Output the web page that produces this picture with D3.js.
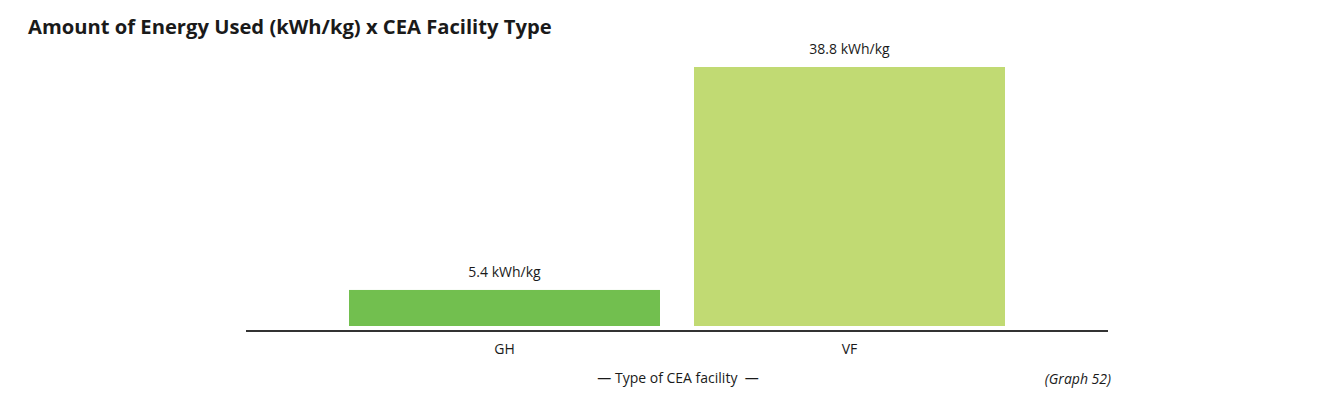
<!DOCTYPE html>
<html>
<head>
<meta charset="utf-8">
<script src="https://cdn.jsdelivr.net/npm/d3@7"></script>
<style>
  body { margin: 0; background: #fff; }
  text { font-family: 'Open Sans', 'Noto Sans', Arial, sans-serif; fill: #1a1a1a; }
</style>
</head>
<body>
<div id="chart"></div>
<script>
const categories = ['GH', 'VF'];
const values = [5.4, 38.8];
const barColors = ['#72bf4f', '#c1da73'];
const valueLabels = ['5.4 kWh/kg', '38.8 kWh/kg'];

const width = 1318;
const height = 396;
const baseline = 326;

const svg = d3.select('#chart')
  .append('svg')
  .attr('width', width)
  .attr('height', height);

// title
svg.append('text')
  .attr('x', 28)
  .attr('y', 34)
  .attr('font-size', '20.2px')
  .attr('font-weight', 'bold')
  .text('Amount of Energy Used (kWh/kg) x CEA Facility Type');

const x = d3.scaleBand()
  .domain(categories)
  .range([349, 1005])
  .paddingInner(0.0986)
  .paddingOuter(0);

const y = d3.scaleLinear()
  .domain([0, 38.8])
  .range([baseline, 67]);

svg.append('g')
  .selectAll('rect')
  .data(values)
  .join('rect')
  .attr('x', (d, i) => x(categories[i]))
  .attr('y', d => y(d))
  .attr('width', x.bandwidth())
  .attr('height', d => baseline - y(d))
  .attr('fill', (d, i) => barColors[i]);

// value labels
svg.append('g')
  .selectAll('text')
  .data(values)
  .join('text')
  .attr('x', (d, i) => x(categories[i]) + x.bandwidth() / 2)
  .attr('y', d => y(d) - 13)
  .attr('text-anchor', 'middle')
  .attr('font-size', '14px')
  .text((d, i) => valueLabels[i]);

// x axis
const axis = svg.append('g')
  .attr('transform', `translate(0,${baseline + 5})`)
  .call(d3.axisBottom(x).tickSize(0).tickPadding(13));
axis.select('.domain').remove();
axis.append('line')
  .attr('x1', 246)
  .attr('x2', 1108)
  .attr('stroke', '#333')
  .attr('stroke-width', 2);
axis.selectAll('.tick text')
  .attr('font-size', '14px')
  .attr('font-family', "'Open Sans', 'Noto Sans', Arial, sans-serif")
  .attr('fill', '#1a1a1a');

// axis title
svg.append('text')
  .attr('x', 678)
  .attr('y', 383)
  .attr('text-anchor', 'middle')
  .attr('font-size', '14px')
  .attr('xml:space', 'preserve')
  .text('\u2014 Type of CEA facility  \u2014');

svg.append('text')
  .attr('x', 1111)
  .attr('y', 384)
  .attr('text-anchor', 'end')
  .attr('font-size', '14px')
  .attr('font-style', 'italic')
  .text('(Graph 52)');
</script>
</body>
</html>
